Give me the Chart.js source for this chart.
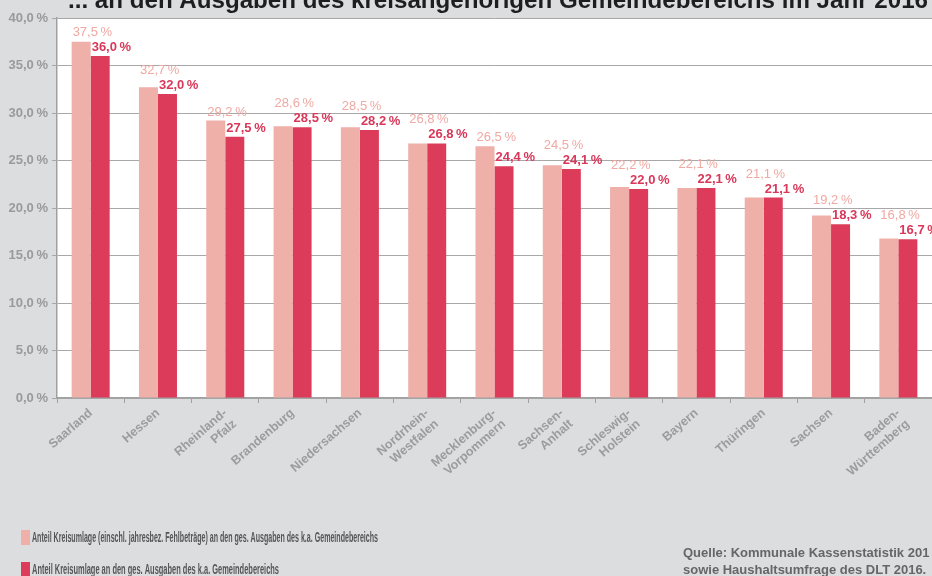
<!DOCTYPE html>
<html>

<head>
    <title>Kreisumlage 2016</title>
    <script src="https://cdn.jsdelivr.net/npm/chart.js"></script>
    <style>
        body { margin: 0; background: #dcdddf; overflow: hidden; }
    </style>
</head>

<body>

    <canvas id="myChart" width="932" height="576"></canvas>

    <script>
        // Laender (mehrzeilige Beschriftung wie im Original)
        const laender = ['Saarland', 'Hessen', ['Rheinland-', 'Pfalz'], 'Brandenburg', 'Niedersachsen',
            ['Nordrhein-', 'Westfalen'], ['Mecklenburg-', 'Vorpommern'], ['Sachsen-', 'Anhalt'],
            ['Schleswig-', 'Holstein'], 'Bayern', 'Thüringen', 'Sachsen', ['Baden-', 'Württemberg']];

        // inkl. Fehlbetraege
        const anteilMitFehlbetraegen = [37.5, 32.7, 29.2, 28.6, 28.5, 26.8, 26.5, 24.5, 22.2, 22.1, 21.1, 19.2, 16.8];
        // ohne
        const anteilKreisumlage = [36.0, 32.0, 27.5, 28.5, 28.2, 26.8, 24.4, 24.1, 22.0, 22.1, 21.1, 18.3, 16.7];

        const legendTexte = [
            'Anteil Kreisumlage (einschl. jahresbez. Fehlbeträge) an den ges. Ausgaben des k.a. Gemeindebereichs',
            'Anteil Kreisumlage an den ges. Ausgaben des k.a. Gemeindebereichs'
        ];
        const quelle = ['Quelle: Kommunale Kassenstatistik 201', 'sowie Haushaltsumfrage des DLT 2016.'];
        const titel = '... an den Ausgaben des kreisangehörigen Gemeindebereichs im Jahr 2016';

        const HELL = '#efb0aa';
        const DUNKEL = '#dc3c59';
        const FONT = '"Liberation Sans", Arial, sans-serif';
        const FONT_SCHMAL = '"Liberation Sans Narrow", "Liberation Sans", sans-serif';

        const prozent = v => v.toFixed(1).replace('.', ',') + '\u2009%';

        // text horizontal gestaucht zeichnen (Original ist Condensed-Schrift)
        function schmalText(ctx, text, x, y, breite) {
            const w = ctx.measureText(text).width;
            ctx.save();
            ctx.translate(x, y);
            ctx.scale(breite / w, 1);
            ctx.fillText(text, 0, 0);
            ctx.restore();
        }

        const hintergrund = {
            id: 'hintergrund',
            beforeDraw(chart) {
                const { ctx, chartArea: a } = chart;
                ctx.save();
                ctx.fillStyle = '#dcdddf';
                ctx.fillRect(0, 0, chart.width, chart.height);
                ctx.fillStyle = '#ffffff';
                ctx.fillRect(a.left, a.top, a.right - a.left, a.bottom - a.top);
                ctx.restore();
            }
        };

        const beschriftung = {
            id: 'beschriftung',
            afterDraw(chart) {
                const ctx = chart.ctx;
                ctx.save();
                ctx.textAlign = 'left';
                ctx.textBaseline = 'alphabetic';

                // Werte ueber den Balken; helle Werte weichen nach oben aus
                const hell = chart.getDatasetMeta(0).data;
                const dunkel = chart.getDatasetMeta(1).data;
                dunkel.forEach((bar, j) => {
                    const yD = bar.y - 5;
                    const yH = Math.min(hell[j].y - 5, yD - 15);
                    ctx.font = 'bold 13px ' + FONT;
                    ctx.fillStyle = '#d8385a';
                    ctx.fillText(prozent(anteilKreisumlage[j]), bar.x - bar.width / 2 + 1, yD);
                    ctx.font = '13px ' + FONT;
                    ctx.fillStyle = '#f0a9a3';
                    ctx.fillText(prozent(anteilMitFehlbetraegen[j]), hell[j].x - hell[j].width / 2 + 1, yH);
                });

                // Titel (oben abgeschnitten)
                ctx.fillStyle = '#1e1e1e';
                ctx.font = 'bold 23px ' + FONT;
                schmalText(ctx, titel, 68, 8, 860);

                // Legende
                ctx.font = 'bold 14px ' + FONT_SCHMAL;
                const breiten = [346, 247];
                [HELL, DUNKEL].forEach((farbe, i) => {
                    const y = 530 + i * 32;
                    ctx.fillStyle = farbe;
                    ctx.fillRect(21, y, 9, 15);
                    ctx.fillStyle = '#555555';
                    schmalText(ctx, legendTexte[i], 32, y + 12, breiten[i]);
                });

                // Quelle
                ctx.fillStyle = '#666666';
                ctx.font = 'bold 13px ' + FONT;
                ctx.fillText(quelle[0], 683, 557);
                ctx.fillText(quelle[1], 683, 574);

                ctx.restore();
            }
        };

        const data = {
            labels: laender,
            datasets: [
                {
                    label: legendTexte[0],
                    data: anteilMitFehlbetraegen,
                    backgroundColor: HELL
                },
                {
                    label: legendTexte[1],
                    data: anteilKreisumlage,
                    backgroundColor: DUNKEL
                }
            ]
        };

        const config = {
            type: 'bar',
            data: data,
            options: {
                responsive: false,
                animation: false,
                layout: { padding: { top: 18, right: 0, left: 0, bottom: 0 } },
                datasets: {
                    bar: { categoryPercentage: 0.565, barPercentage: 1.0 }
                },
                scales: {
                    x: {
                        afterFit: scale => { scale.height = 178; },
                        grid: { offset: true, drawOnChartArea: false, tickLength: 5, color: '#a0a0a0' },
                        border: { color: '#a0a0a0', width: 1.5 },
                        ticks: {
                            autoSkip: false,
                            minRotation: 41,
                            maxRotation: 41,
                            padding: 3,
                            color: '#9c9c9c',
                            font: { family: FONT, size: 12.5, weight: 'bold', lineHeight: 1.15 }
                        }
                    },
                    y: {
                        min: 0,
                        max: 40,
                        afterFit: scale => { scale.width = 57; },
                        grid: { tickLength: 5, color: '#a8a8a8', lineWidth: 1 },
                        border: { color: '#a0a0a0', width: 1.5 },
                        ticks: {
                            stepSize: 5,
                            padding: 4,
                            color: '#9a9a9a',
                            font: { family: FONT, size: 13, weight: 'bold' },
                            callback: v => prozent(v)
                        }
                    }
                },
                plugins: {
                    legend: { display: false },
                    tooltip: { enabled: false }
                }
            },
            plugins: [hintergrund, beschriftung]
        };

        const myChart = new Chart(document.getElementById('myChart'), config);
    </script>

</body>

</html>
